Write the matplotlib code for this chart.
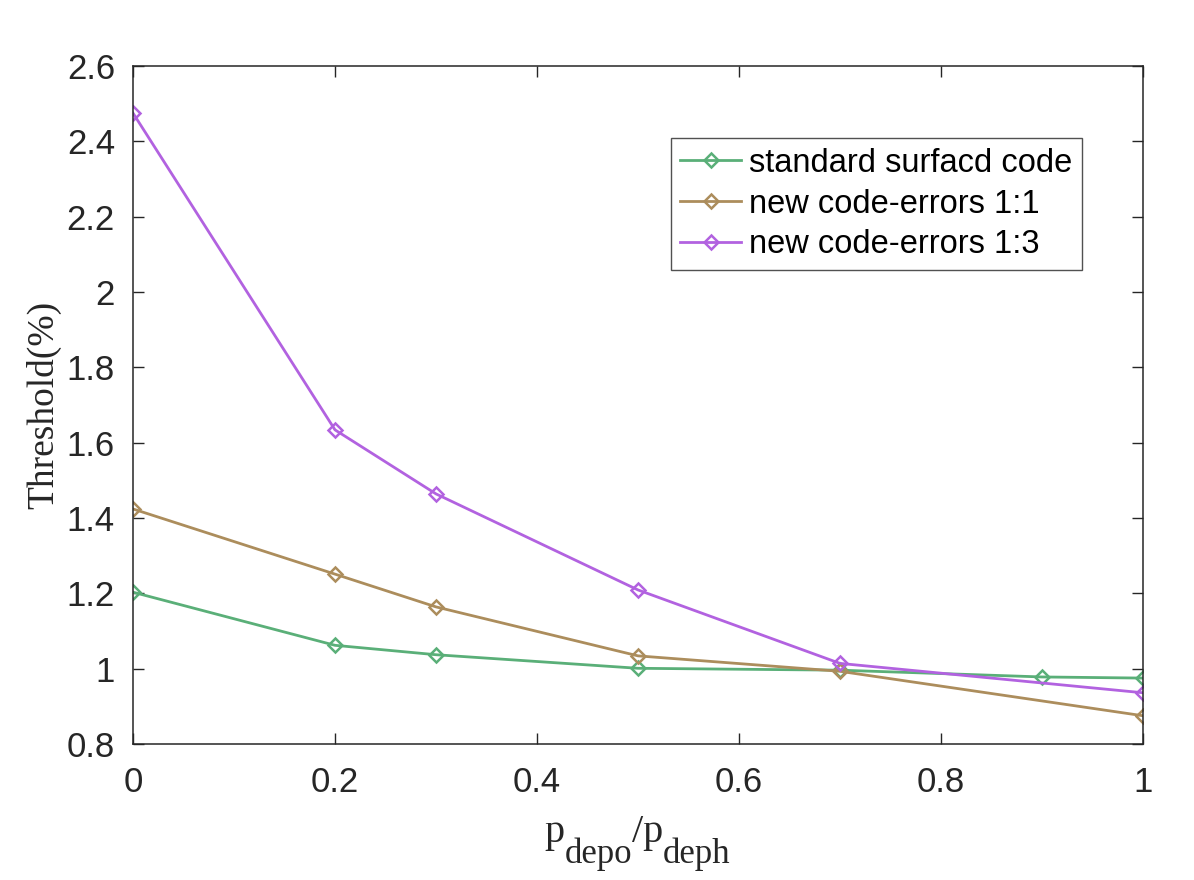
import matplotlib
matplotlib.use("Agg")
import matplotlib.pyplot as plt

x_std = [0, 0.2, 0.3, 0.5, 0.7, 0.9, 1.0]
y_std = [1.203, 1.062, 1.037, 1.001, 0.996, 0.978, 0.975]
x_new = [0, 0.2, 0.3, 0.5, 0.7, 1.0]
y_11 = [1.424, 1.251, 1.164, 1.034, 0.993, 0.875]
y_13 = [2.475, 1.634, 1.464, 1.209, 1.014, 0.936]
labels = ["standard surfacd code", "new code-errors 1:1", "new code-errors 1:3"]
colors = ["#5aaf78", "#ac8d5c", "#b262e0"]

plt.rcParams['font.family'] = ['Liberation Sans', 'DejaVu Sans']
W, H = 1194, 880
fig = plt.figure(figsize=(W / 100, H / 100), dpi=100)
ax = fig.add_axes([133 / W, 1 - 744 / H, 1010 / W, 678 / H])

series = [(x_std, y_std), (x_new, y_11), (x_new, y_13)]
for (xs, ys), lab, c in zip(series, labels, colors):
    ax.plot(xs, ys, color=c, lw=2.0, marker='D', markersize=7.5,
            markerfacecolor='none', markeredgewidth=1.8, label=lab)

ax.set_xlim(0, 1)
ax.set_ylim(0.8, 2.6)
ax.set_xticks([0, 0.2, 0.4, 0.6, 0.8, 1])
ax.set_xticklabels(["0", "0.2", "0.4", "0.6", "0.8", "1"])
ax.set_yticks([0.8, 1.0, 1.2, 1.4, 1.6, 1.8, 2.0, 2.2, 2.4, 2.6])
ax.set_yticklabels(["0.8", "1", "1.2", "1.4", "1.6", "1.8", "2", "2.2", "2.4", "2.6"])
ax.tick_params(direction='in', length=8, width=1, labelsize=25, colors='#262626',
               top=True, right=True, pad=13)
ax.tick_params(axis='x', pad=16)
for s in ax.spines.values():
    s.set_color('#262626')
    s.set_linewidth(1.1)

ax.set_ylabel("Threshold(%)", family=['Liberation Serif'], fontsize=27, color='#262626', labelpad=4)

# x label: p_depo / p_deph with large subscripts (MATLAB tex style)
parts = [("p", 29, 0), ("depo", 25, 1), ("/p", 29, 0), ("deph", 25, 1)]
base_main = 1 - 842 / H
base_sub = 1 - 863 / H
fig.canvas.draw()
r = fig.canvas.get_renderer()
texts = []
for s, fs, sub in parts:
    t = fig.text(0, base_sub if sub else base_main, s, family=['Liberation Serif'],
                 fontsize=fs, color='#262626', va='baseline', ha='left')
    texts.append(t)
widths = [t.get_window_extent(r).width for t in texts]
total = sum(widths)
x0 = (548 + 727) / 2 - total / 2
cur = x0
for t, w in zip(texts, widths):
    t.set_x(cur / W)
    cur += w

leg = ax.legend(loc='upper right', bbox_to_anchor=((1082 - 133) / 1010, (744 - 138) / 678),
                fontsize=23.5, frameon=True, fancybox=False, edgecolor='#262626',
                borderpad=0.3, handlelength=1.85, handletextpad=0.25, labelspacing=0.3,
                borderaxespad=0)
leg.get_frame().set_linewidth(1.0)

fig.savefig("out.png", dpi=100)
